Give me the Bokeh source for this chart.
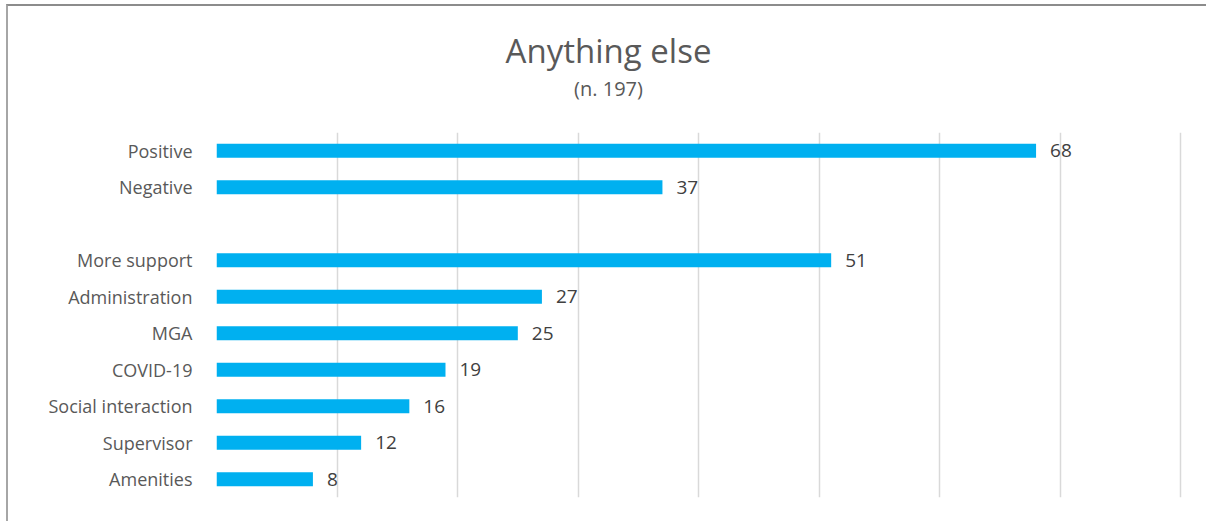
from bokeh.plotting import figure
from bokeh.layouts import column
from bokeh.models import FactorRange, Range1d, FixedTicker, ColumnDataSource
from bokeh.core.properties import value
from bokeh.embed import file_html
from bokeh.resources import INLINE

categories = ["Positive", "Negative", " ", "More support", "Administration", "MGA",
              "COVID-19", "Social interaction", "Supervisor", "Amenities"]
counts = [68, 37, None, 51, 27, 25, 19, 16, 12, 8]
title_text = "Anything else"
subtitle_text = "(n. 197)"
grid_ticks = [0, 10, 20, 30, 40, 50, 60, 70, 80]

cats = [c for c, v in zip(categories, counts) if v is not None]
vals = [v for v in counts if v is not None]
src = ColumnDataSource(dict(cat=cats, val=vals, lbl=[str(v) for v in vals]))

FONT = "Open Sans"
W = 1198
TOP_H = 126
LEFT = 208
RIGHT = 24

# title strip: x in canvas pixels (frame is aligned with the chart frame), y downward
t = figure(width=W, height=TOP_H, output_backend="svg", toolbar_location=None,
           x_range=Range1d(LEFT, W - RIGHT), y_range=Range1d(TOP_H, 0), min_border=0,
           min_border_left=LEFT, min_border_right=RIGHT, title=None)
t.axis.visible = False
t.grid.visible = False
t.outline_line_color = None
t.text(x=[600], y=[44], text=[title_text], text_align="center", text_baseline="middle",
       text_font=value(FONT), text_font_size="33px", text_color="#595959")
t.text(x=[600], y=[82], text=[subtitle_text], text_align="center", text_baseline="middle",
       text_font=value(FONT), text_font_size="20px", text_color="#595959")

p = figure(width=W, height=515 - TOP_H, output_backend="svg", toolbar_location=None,
           y_range=FactorRange(factors=list(reversed(categories))),
           x_range=Range1d(0, 80.15), title=None,
           min_border_left=LEFT, min_border_right=RIGHT, min_border_top=0, min_border_bottom=24)

p.hbar(y="cat", right="val", left=0, height=0.39, source=src,
       fill_color="#00b0f0", line_color=None)
p.text(x="val", y="cat", text="lbl", source=src, x_offset=14,
       text_baseline="middle", text_align="left",
       text_font=value(FONT), text_font_size="19px", text_color="#404040")

p.xaxis.visible = False
p.xgrid.ticker = FixedTicker(ticks=grid_ticks)
p.xgrid.grid_line_color = "#d9d9d9"
p.xgrid.grid_line_width = 1.5
p.ygrid.grid_line_color = None

ya = p.yaxis[0]
ya.axis_line_color = None
ya.major_tick_line_color = None
ya.minor_tick_line_color = None
ya.major_tick_out = 0
ya.major_label_standoff = 24
ya.major_label_text_font = FONT
ya.major_label_text_font_size = "18px"
ya.major_label_text_color = "#595959"

p.outline_line_color = None
p.background_fill_color = "white"
p.border_fill_color = "white"

layout = column(t, p, spacing=0)
layout.styles = {"border-top": "2px solid #8c8c8c", "border-left": "2px solid #a6a6a6",
                 "margin-left": "6px", "margin-top": "4px"}

open("out.html", "w").write(file_html(layout, INLINE))
